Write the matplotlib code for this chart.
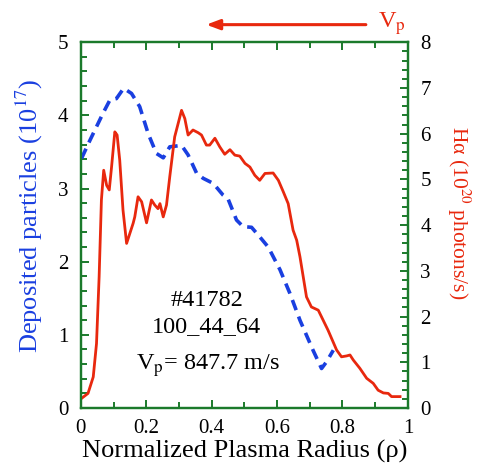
import matplotlib
matplotlib.use("Agg")
import matplotlib.pyplot as plt
from matplotlib.ticker import MultipleLocator

plt.rcParams['font.family'] = ['Liberation Serif', 'DejaVu Serif']
plt.rcParams['mathtext.fontset'] = 'stix'

# deposited particles (left axis, 1e17)
rho_dep = [0.002, 0.028, 0.068, 0.089, 0.109, 0.131, 0.155, 0.180, 0.206, 0.231,
           0.252, 0.272, 0.308, 0.328, 0.354, 0.374, 0.405, 0.435, 0.450, 0.476,
           0.496, 0.522, 0.547, 0.573, 0.609, 0.639, 0.670, 0.710, 0.736, 0.751, 0.772]
dep = [3.41, 3.66, 4.03, 4.21, 4.23, 4.37, 4.30, 4.12, 3.75, 3.48,
       3.42, 3.57, 3.59, 3.46, 3.21, 3.14, 3.07, 2.91, 2.86, 2.57,
       2.48, 2.47, 2.34, 2.20, 1.89, 1.57, 1.20, 0.79, 0.54, 0.63, 0.79]

# H-alpha emission (right axis, 1e20 photons/s)
rho_ha = [0.002, 0.022, 0.038, 0.048, 0.056, 0.063, 0.070, 0.079, 0.087, 0.094,
          0.104, 0.111, 0.119, 0.129, 0.140, 0.150, 0.160, 0.165, 0.175, 0.186,
          0.201, 0.216, 0.226, 0.236, 0.242, 0.252, 0.262, 0.272, 0.287, 0.308,
          0.318, 0.328, 0.343, 0.359, 0.369, 0.384, 0.394, 0.410, 0.425, 0.440,
          0.456, 0.471, 0.486, 0.502, 0.517, 0.532, 0.547, 0.563, 0.588, 0.604,
          0.619, 0.634, 0.649, 0.660, 0.670, 0.680, 0.690, 0.705, 0.726, 0.741,
          0.756, 0.782, 0.797, 0.813, 0.823, 0.833, 0.853, 0.874, 0.894, 0.909,
          0.925, 0.940, 0.950, 0.976]
ha = [0.21, 0.32, 0.68, 1.41, 2.87, 4.55, 5.20, 4.87, 4.77, 5.27,
      6.04, 5.97, 5.42, 4.33, 3.60, 3.82, 4.04, 4.18, 4.62, 4.51,
      4.05, 4.55, 4.44, 4.36, 4.47, 4.18, 4.44, 5.06, 5.93, 6.51,
      6.33, 5.97, 6.08, 6.02, 5.97, 5.75, 5.75, 5.90, 5.71, 5.55,
      5.65, 5.53, 5.51, 5.35, 5.27, 5.09, 4.98, 5.13, 5.14, 4.98,
      4.73, 4.47, 3.89, 3.67, 3.31, 2.87, 2.43, 2.21, 2.14, 1.92,
      1.70, 1.27, 1.12, 1.14, 1.16, 1.05, 0.87, 0.65, 0.54, 0.39,
      0.33, 0.32, 0.25, 0.25]

green = '#1b7a2b'
red = '#e8280e'
blue = '#1a3fe0'

fig = plt.figure(figsize=(4.81, 4.69), dpi=100)
ax = fig.add_axes([0.168, 0.130, 0.680, 0.780])
ax2 = ax.twinx()

ax.plot(rho_dep, dep, color=blue, lw=2.6, dashes=(3, 1.9), zorder=3)
ax2.plot(rho_ha, ha, color=red, lw=2.0)

ax.set_xlim(0, 1)
ax.set_ylim(0, 5)
ax2.set_ylim(0, 8)

ax.xaxis.set_major_locator(MultipleLocator(0.2))
ax.xaxis.set_minor_locator(MultipleLocator(0.1))
ax.yaxis.set_major_locator(MultipleLocator(1))
ax.yaxis.set_minor_locator(MultipleLocator(0.2))
ax2.yaxis.set_major_locator(MultipleLocator(1))
ax2.yaxis.set_minor_locator(MultipleLocator(0.2))

ax.set_xticks([0, 0.2, 0.4, 0.6, 0.8, 1.0])
ax.set_xticklabels(['0', '0.2', '0.4', '0.6', '0.8', '1'])

for a in (ax, ax2):
    for s in a.spines.values():
        s.set_color(green)
        s.set_linewidth(1.6)
    a.tick_params(which='both', direction='in', color=green, width=1.4,
                  labelsize=15, labelcolor='black', top=True)
    a.tick_params(which='major', length=6)
    a.tick_params(which='minor', length=4)
ax.tick_params(axis='x', pad=8)
ax.tick_params(axis='y', pad=9)
ax2.tick_params(axis='y', pad=9)

ax.set_xlabel('Normalized Plasma Radius (ρ)', fontsize=19, labelpad=1)
ax.set_ylabel('Deposited particles (10$^{17}$)', color=blue, fontsize=19)
ax.yaxis.set_label_coords(-0.11, 0.525)
ax2.set_ylabel('Hα (10$^{20}$ photons/s)', color=red, fontsize=15.5,
               rotation=-90, va='center')
ax2.yaxis.set_label_coords(1.155, 0.535)

ax.text(0.385, 0.295, '#41782', transform=ax.transAxes, ha='center', va='center', fontsize=17.5)
ax.text(0.385, 0.223, '100_44_64', transform=ax.transAxes, ha='center', va='center', fontsize=17.5)
ax.text(0.39, 0.115, 'V$_{\\rm p}$= 847.7 m/s', transform=ax.transAxes,
        ha='center', va='center', fontsize=17.5)

# flow direction arrow above the frame
ax.annotate('', xy=(0.375, 1.048), xytext=(0.88, 1.048), xycoords='axes fraction',
            arrowprops=dict(arrowstyle='-|>,head_length=0.8,head_width=0.3',
                            color=red, lw=2.2), annotation_clip=False)
ax.text(0.91, 1.05, 'V$_{\\rm p}$', transform=ax.transAxes, color=red,
        fontsize=17.5, ha='left', va='center')

fig.savefig('out.png', dpi=100)
